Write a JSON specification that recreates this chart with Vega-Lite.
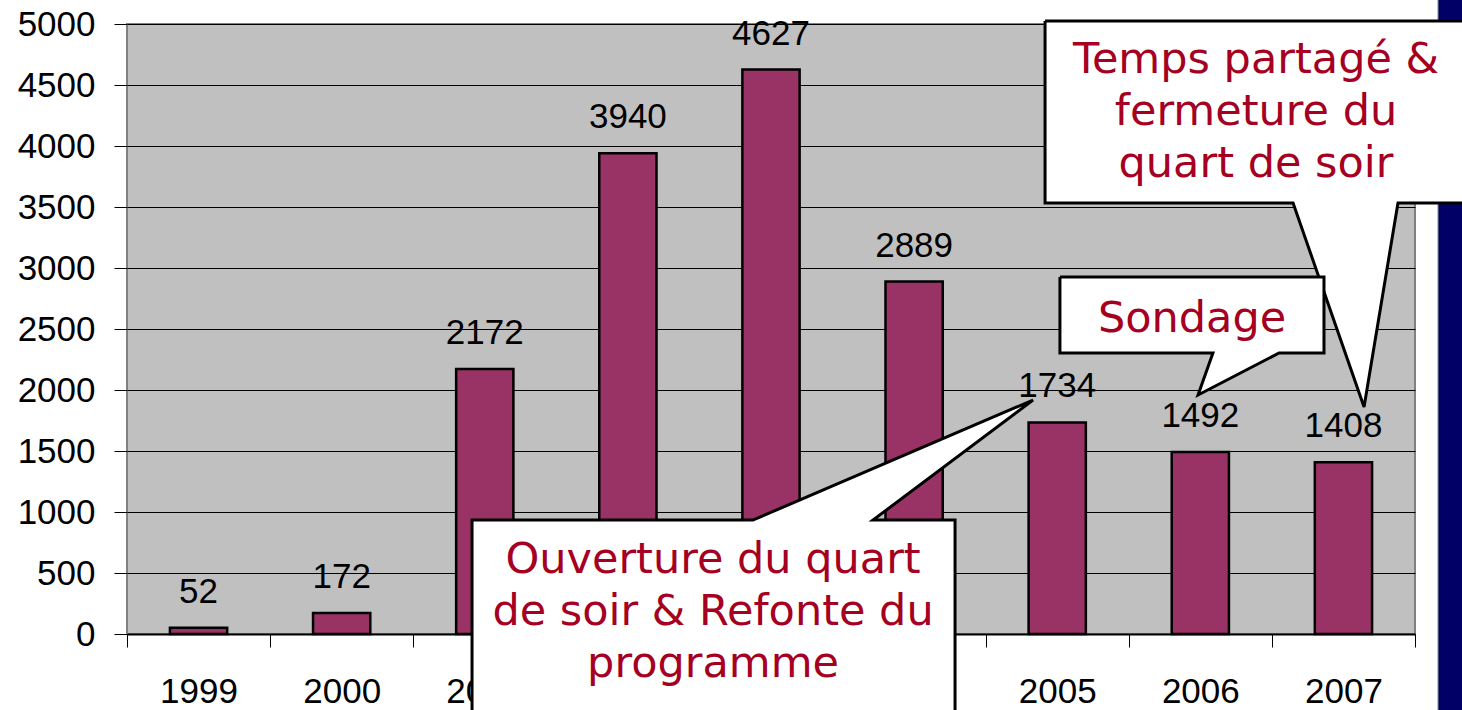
{
  "$schema": "https://vega.github.io/schema/vega-lite/v6.json",
  "width": 1288,
  "height": 610,
  "autosize": {"type": "none"},
  "padding": {"left": 127, "top": 24, "right": 47, "bottom": 76},
  "background": "white",
  "config": {
    "view": {"fill": "#C0C0C0", "stroke": "#808080", "strokeWidth": 2}
  },
  "datasets": {
    "bars": [
      {"year": "1999", "value": 52},
      {"year": "2000", "value": 172},
      {"year": "2001", "value": 2172},
      {"year": "2002", "value": 3940},
      {"year": "2003", "value": 4627},
      {"year": "2004", "value": 2889},
      {"year": "2005", "value": 1734},
      {"year": "2006", "value": 1492},
      {"year": "2007", "value": 1408}
    ],
    "strip": [
      {"x1": 9.161, "x2": 9.7, "y1": -900, "y2": 5500}
    ],
    "shapes": [
      {"id": "temps", "o": 1, "cx": 6.415, "cy": 5025},
      {"id": "temps", "o": 2, "cx": 9.45, "cy": 5025},
      {"id": "temps", "o": 3, "cx": 9.45, "cy": 3533},
      {"id": "temps", "o": 4, "cx": 8.881, "cy": 3533},
      {"id": "temps", "o": 5, "cx": 8.644, "cy": 1861},
      {"id": "temps", "o": 6, "cx": 8.148, "cy": 3533},
      {"id": "temps", "o": 7, "cx": 6.415, "cy": 3533},
      {"id": "temps", "o": 8, "cx": 6.415, "cy": 5025},
      {"id": "sondage", "o": 1, "cx": 6.519, "cy": 2926},
      {"id": "sondage", "o": 2, "cx": 8.364, "cy": 2926},
      {"id": "sondage", "o": 3, "cx": 8.364, "cy": 2303},
      {"id": "sondage", "o": 4, "cx": 8.05, "cy": 2303},
      {"id": "sondage", "o": 5, "cx": 7.484, "cy": 1959},
      {"id": "sondage", "o": 6, "cx": 7.588, "cy": 2303},
      {"id": "sondage", "o": 7, "cx": 6.519, "cy": 2303},
      {"id": "sondage", "o": 8, "cx": 6.519, "cy": 2926},
      {"id": "ouverture", "o": 1, "cx": 2.411, "cy": -760},
      {"id": "ouverture", "o": 2, "cx": 2.411, "cy": 934},
      {"id": "ouverture", "o": 3, "cx": 4.374, "cy": 934},
      {"id": "ouverture", "o": 4, "cx": 6.331, "cy": 1918},
      {"id": "ouverture", "o": 5, "cx": 5.213, "cy": 934},
      {"id": "ouverture", "o": 6, "cx": 5.786, "cy": 934},
      {"id": "ouverture", "o": 7, "cx": 5.786, "cy": -760},
      {"id": "ouverture", "o": 8, "cx": 2.411, "cy": -760}
    ],
    "notes": [
      {"id": "temps", "cx": 7.889, "cy": 4598, "label": ["Temps partagé &", "fermeture du", "quart de soir"]},
      {"id": "sondage", "cx": 7.442, "cy": 2475, "label": ["Sondage"]},
      {"id": "ouverture", "cx": 4.095, "cy": 500, "label": ["Ouverture du quart", "de soir & Refonte du", "programme"]}
    ]
  },
  "resolve": {"scale": {"x": "independent"}, "axis": {"y": "independent"}},
  "layer": [
    {
      "data": {"name": "bars"},
      "mark": {"type": "bar", "fill": "#993366", "stroke": "black", "strokeWidth": 2.5, "width": {"band": 0.4}},
      "encoding": {
        "x": {
          "field": "year", "type": "nominal", "sort": null,
          "scale": {"paddingInner": 0, "paddingOuter": 0},
          "axis": {
            "title": null, "tickBand": "extent", "tickSize": 13, "tickColor": "black",
            "domainColor": "black", "domainWidth": 2, "labelFont": "Liberation Sans",
            "labelFontSize": 35, "labelColor": "black", "labelPadding": 27, "labelAngle": 0,
            "grid": false
          }
        },
        "y": {
          "field": "value", "type": "quantitative",
          "scale": {"domain": [0, 5000], "nice": false},
          "axis": {
            "title": null, "values": [0, 500, 1000, 1500, 2000, 2500, 3000, 3500, 4000, 4500, 5000],
            "format": "d", "tickSize": 13, "tickColor": "black", "domain": false,
            "grid": true, "gridColor": "black", "gridWidth": 1,
            "labelFont": "Liberation Sans", "labelFontSize": 35, "labelColor": "black", "labelPadding": 19
          }
        }
      }
    },
    {
      "data": {"name": "bars"},
      "mark": {"type": "text", "font": "Liberation Sans", "fontSize": 35, "color": "black", "baseline": "alphabetic", "dy": -25},
      "encoding": {
        "x": {"field": "year", "type": "nominal", "sort": null, "scale": {"paddingInner": 0, "paddingOuter": 0}, "axis": null},
        "y": {"field": "value", "type": "quantitative", "scale": {"domain": [0, 5000], "nice": false}, "axis": null},
        "text": {"field": "value", "type": "quantitative", "format": "d"}
      }
    },
    {
      "data": {"name": "strip"},
      "mark": {"type": "rect", "fill": "#000066", "stroke": "#808080", "strokeWidth": 1},
      "encoding": {
        "x": {"field": "x1", "type": "quantitative", "scale": {"domain": [0, 9], "nice": false, "zero": false}, "axis": null},
        "x2": {"field": "x2"},
        "y": {"field": "y1", "type": "quantitative", "scale": {"domain": [0, 5000], "nice": false}, "axis": null},
        "y2": {"field": "y2"}
      }
    },
    {
      "data": {"name": "shapes"},
      "mark": {"type": "line", "fill": "white", "stroke": "black", "strokeWidth": 3, "strokeJoin": "miter"},
      "encoding": {
        "x": {"field": "cx", "type": "quantitative", "scale": {"domain": [0, 9], "nice": false, "zero": false}, "axis": null},
        "y": {"field": "cy", "type": "quantitative", "scale": {"domain": [0, 5000], "nice": false}, "axis": null},
        "detail": {"field": "id"},
        "order": {"field": "o", "type": "quantitative"}
      }
    },
    {
      "data": {"name": "notes"},
      "mark": {"type": "text", "font": "DejaVu Sans", "fontSize": 43, "color": "#A50021", "align": "center", "baseline": "alphabetic", "lineHeight": 52},
      "encoding": {
        "x": {"field": "cx", "type": "quantitative", "scale": {"domain": [0, 9], "nice": false, "zero": false}, "axis": null},
        "y": {"field": "cy", "type": "quantitative", "scale": {"domain": [0, 5000], "nice": false}, "axis": null},
        "text": {"field": "label"}
      }
    }
  ]
}
